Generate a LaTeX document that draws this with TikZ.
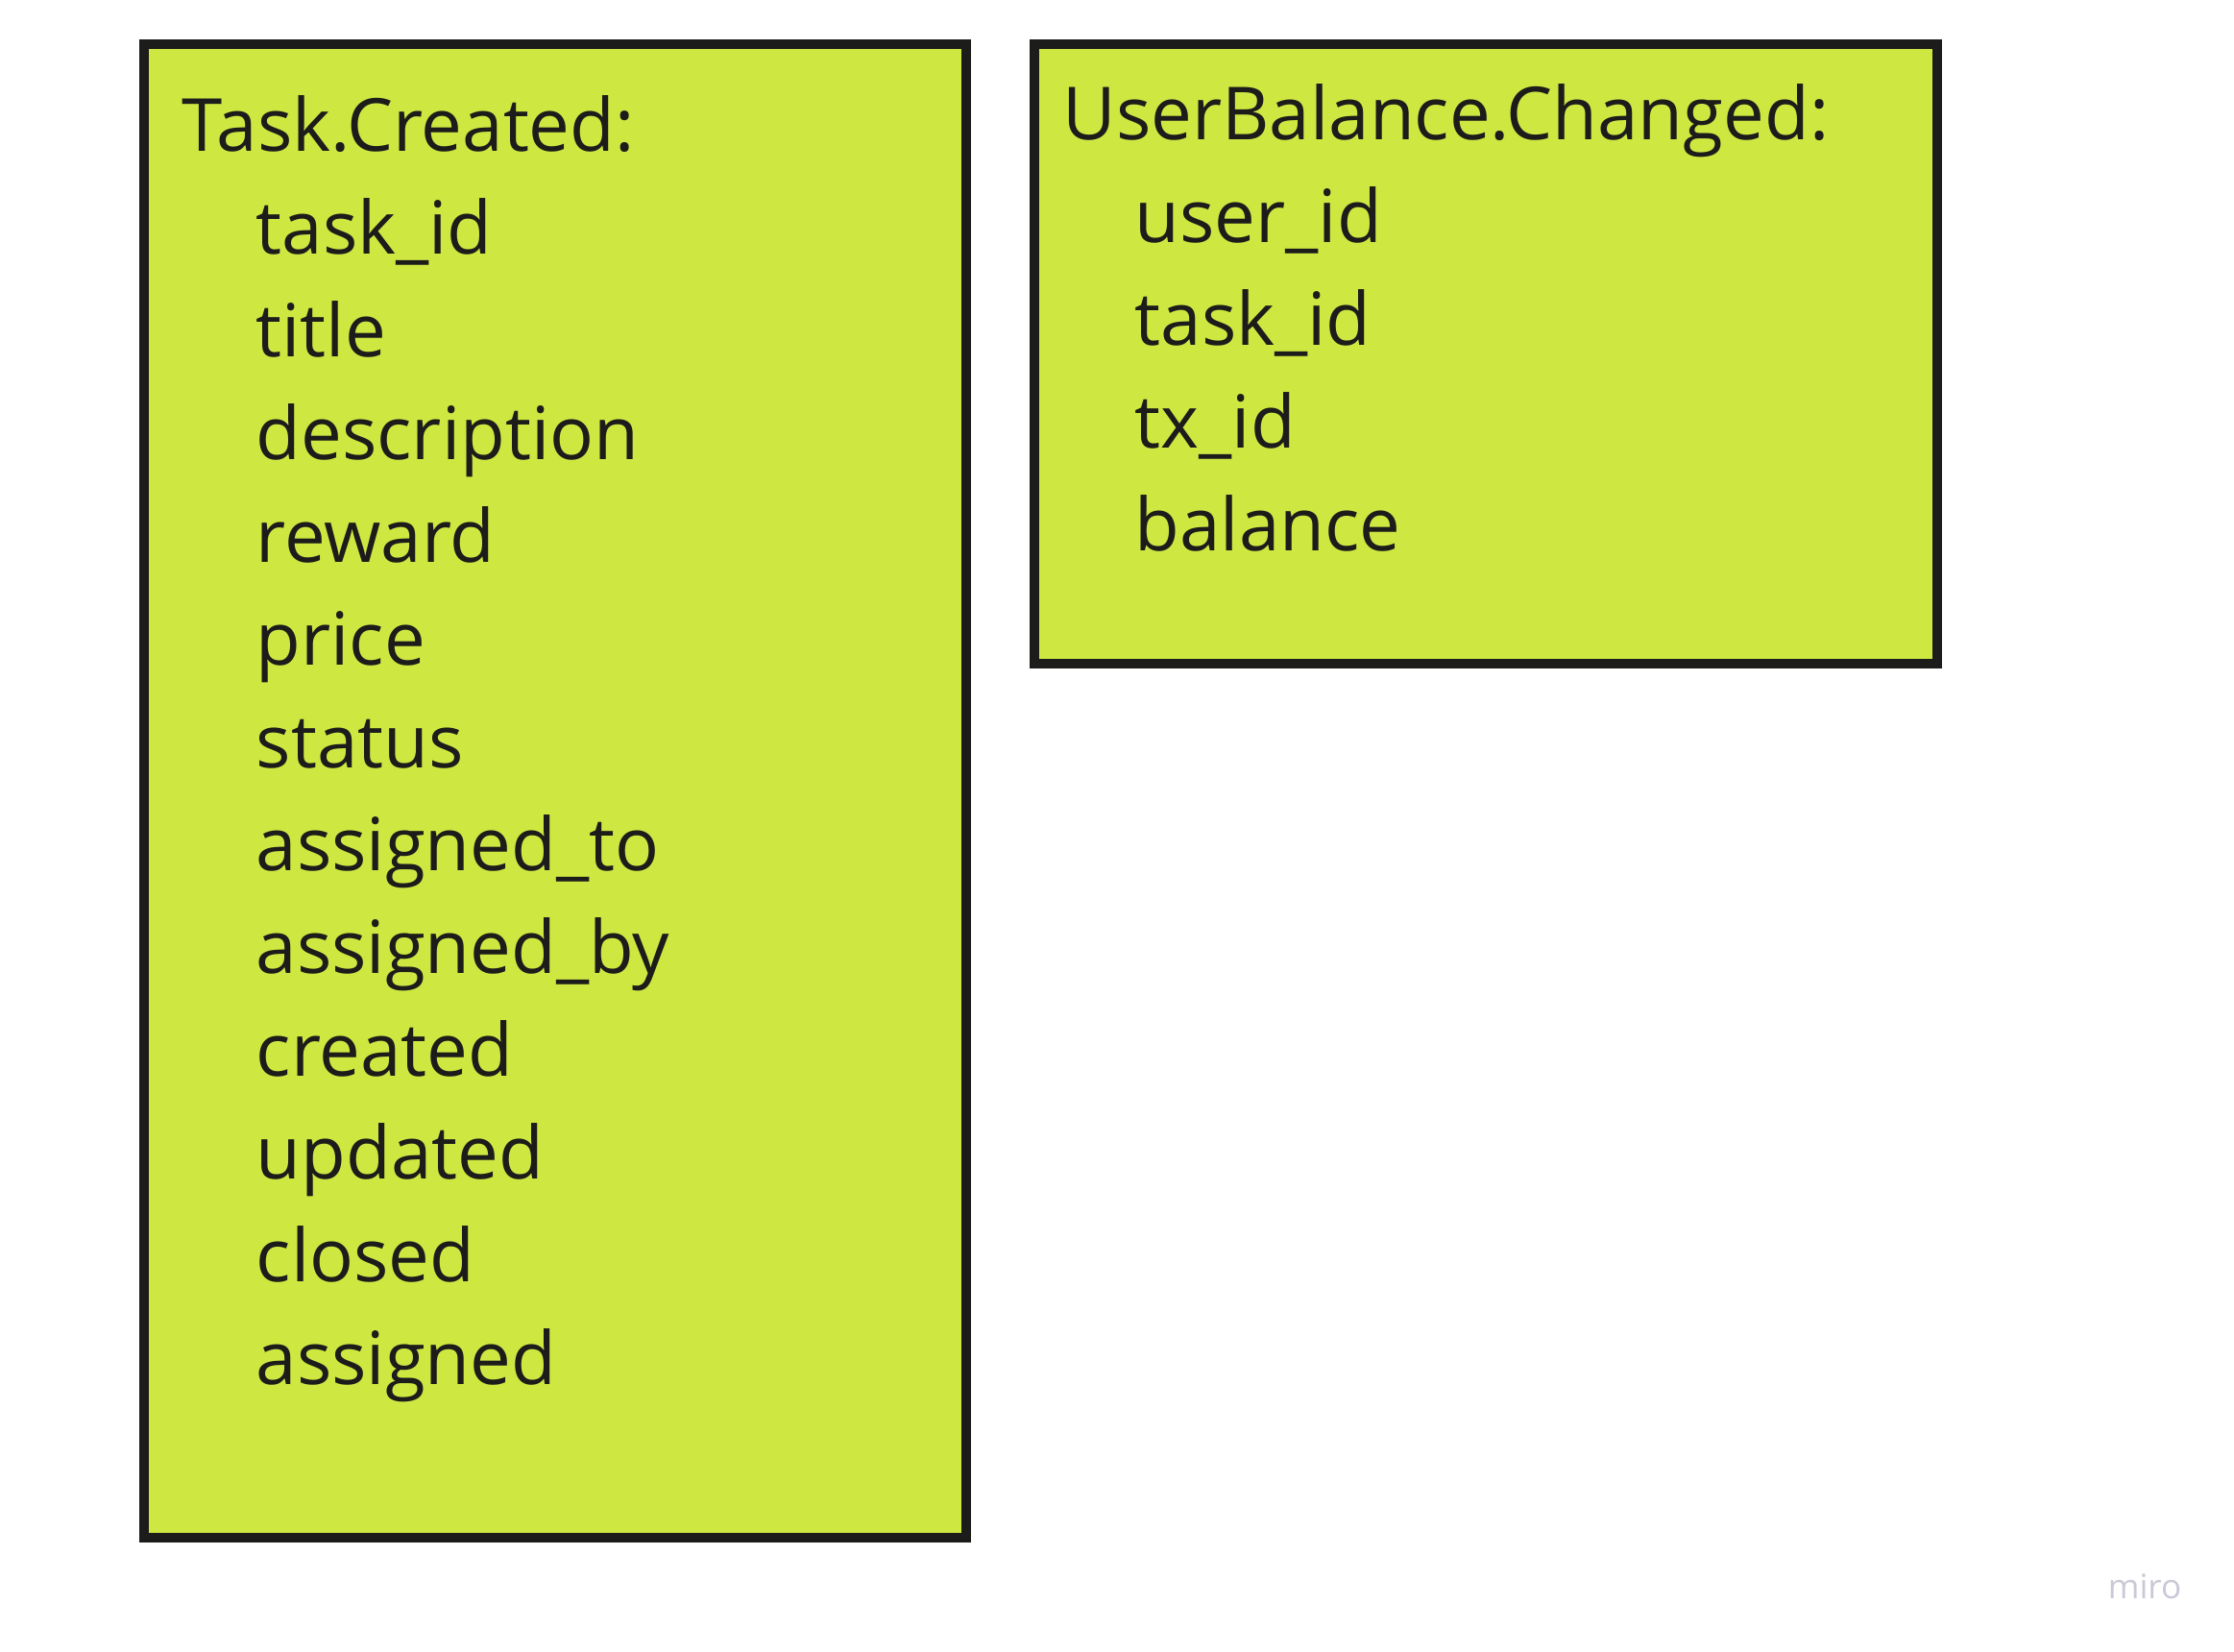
\documentclass[tikz,border=0pt]{standalone}
\usepackage{fontspec}
\setmainfont{Open Sans}
\definecolor{lime}{HTML}{CEE741}
\definecolor{ink}{HTML}{1C1C1A}
\definecolor{wmark}{HTML}{C9C9D7}

\begin{document}
\begin{tikzpicture}[x=1cm, y=1cm]

    \useasboundingbox (0,0) rectangle (23.26,-17.19);

    % event boxes
    \begin{scope}[every node/.style={rectangle, fill=lime, draw=ink, line width=2.6pt, inner sep=0pt}]
        \node[minimum width=8.56cm, minimum height=15.55cm] (taskbox) at (5.78,-8.235) {};
        \node[minimum width=9.40cm, minimum height=6.45cm] (balancebox) at (15.47,-3.685) {};
    \end{scope}

    \begin{scope}[shift={(-0.01,0.03)}] %Task.Created
        \begin{scope}[every node/.style={anchor=base west, inner sep=0pt, text=ink, font=\fontsize{21.7}{26}\selectfont}]
            \node (taskhead) at (1.90,-1.60) {Task.Created:};
            \node (task1) at (2.67,-2.67) {task\_id};
            \node (task2) at (2.67,-3.74) {title};
            \node (task3) at (2.67,-4.81) {description};
            \node (task4) at (2.67,-5.88) {reward};
            \node (task5) at (2.67,-6.95) {price};
            \node (task6) at (2.67,-8.02) {status};
            \node (task7) at (2.67,-9.09) {assigned\_to};
            \node (task8) at (2.67,-10.16) {assigned\_by};
            \node (task9) at (2.67,-11.23) {created};
            \node (task10) at (2.67,-12.30) {updated};
            \node (task11) at (2.67,-13.37) {closed};
            \node (task12) at (2.67,-14.44) {assigned};
        \end{scope}
    \end{scope}

    \begin{scope}[shift={(-0.01,0.03)}] %UserBalance.Changed
        \begin{scope}[every node/.style={anchor=base west, inner sep=0pt, text=ink, font=\fontsize{21.7}{26}\selectfont}]
            \node (balancehead) at (11.07,-1.48) {UserBalance.Changed:};
            \node (balance1) at (11.82,-2.55) {user\_id};
            \node (balance2) at (11.82,-3.62) {task\_id};
            \node (balance3) at (11.82,-4.69) {tx\_id};
            \node (balance4) at (11.82,-5.76) {balance};
        \end{scope}
    \end{scope}

    \node[anchor=east, inner sep=0pt, text=wmark, font=\fontsize{10}{12}\selectfont] (miro) at (22.72,-16.52) {miro};

\end{tikzpicture}
\end{document}
